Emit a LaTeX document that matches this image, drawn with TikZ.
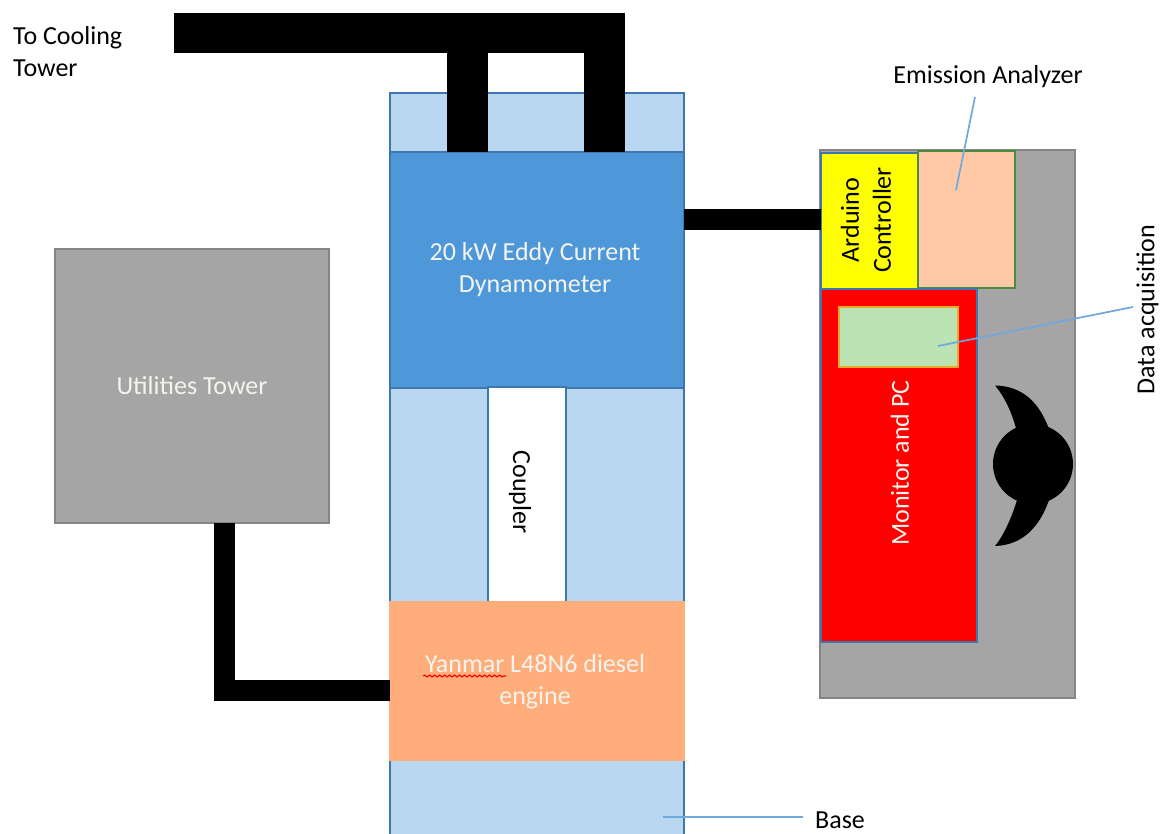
\documentclass[tikz,border=0pt]{standalone}
\usepackage{fontspec}
\setmainfont{Carlito}
\usetikzlibrary{decorations.pathmorphing}
\definecolor{basefill}{HTML}{B9D7F0}
\definecolor{blueedge}{HTML}{3E77AE}
\definecolor{dynofill}{HTML}{4E97D8}
\definecolor{greyfill}{HTML}{A5A5A5}
\definecolor{greyedge}{HTML}{858585}
\definecolor{enginefill}{HTML}{FFAD7A}
\definecolor{peachfill}{HTML}{FFC9A8}
\definecolor{greenedge}{HTML}{4C8A3C}
\definecolor{dafill}{HTML}{BBE3B3}
\definecolor{daedge}{HTML}{EFA92A}
\definecolor{leader}{HTML}{6FA8DC}
\definecolor{pureyellow}{HTML}{FFFF00}
\definecolor{purered}{HTML}{FF0000}
\definecolor{softwhite}{HTML}{F4F4EE}
\tikzset{
  x=1pt,y=-1pt,
  box/.style={draw=#1,line width=1.2pt,inner sep=0pt,outer sep=0pt,anchor=north west},
  lab/.style={font=\fontsize{26}{32}\selectfont,inner sep=0pt,align=center},
  pipe/.style={draw=black,line cap=butt,line join=miter},
  leaderline/.style={draw=leader,line width=1.7pt},
}
\newcommand{\rectnode}[7]{% name, style, fill, x0,y0,x1,y1
  \pgfmathsetlengthmacro{\rw}{#6-#4}\pgfmathsetlengthmacro{\rh}{#7-#5}
  \node[box=#2,fill=#3,minimum width=\rw,minimum height=\rh] (#1) at (#4,#5) {};}
\begin{document}
\begin{tikzpicture}
\useasboundingbox (0,0) rectangle (1170,834);
\clip (0,0) rectangle (1170,834);
% base
\rectnode{base}{blueedge}{basefill}{390}{93}{684}{845}
% pipes to cooling tower
\coordinate (coolend) at (174,33);
\coordinate (teeA) at (467.5,33);
\coordinate (teeB) at (604.5,33);
% dynamometer
\rectnode{dyno}{blueedge}{dynofill}{390}{152}{684}{388}
\node[lab,text=softwhite] (dynotext) at (535,270) {20 kW Eddy Current\\Dynamometer};
\draw[pipe,line width=40.5pt] (coolend) -- (teeB) -- (teeB |- dyno.north);
\draw[pipe,line width=40.5pt] (teeA) -- (teeA |- dyno.north);
% coupler
\rectnode{coupler}{blueedge}{white}{488}{387}{566}{602}
\node[lab,rotate=-90] (couplertext) at (520,492) {Coupler};
% engine
\rectnode{engine}{enginefill}{enginefill}{390}{601.5}{684}{760}
\node[lab,text=softwhite] (enginetext) at (535,682) {Yanmar L48N6 diesel\\engine};
\coordinate (sqA) at (423,676);
\coordinate (sqB) at (506,676);
\draw[red,line width=1.1pt,decorate,decoration={snake,amplitude=1pt,segment length=5pt}] (sqA) -- (sqB);
% utilities
\rectnode{util}{greyedge}{greyfill}{55}{249}{329}{523}
\node[lab,text=softwhite] (utiltext) at (192,386) {Utilities Tower};
\coordinate (elbow) at (224,690);
\draw[pipe,line width=21pt] (elbow |- util.south) -- (elbow) -- (elbow -| engine.west);
% right cabinet
\rectnode{cabinet}{greyedge}{greyfill}{820}{150}{1075}{698}
\rectnode{arduino}{blueedge}{pureyellow}{821}{153}{918}{289}
\rectnode{analyzer}{greenedge}{peachfill}{918}{151}{1015}{288}
\rectnode{monitor}{blueedge}{purered}{821}{289}{977}{642}
\rectnode{daq}{daedge}{dafill}{839}{307}{958}{367}
\node[lab,rotate=90] (ardtext) at (866,220) {Arduino\\Controller};
\node[lab,rotate=90,text=softwhite] (montext) at (900,463) {Monitor and PC};
\coordinate (ardlink) at (684,220);
\draw[pipe,line width=21pt] (dyno.east |- ardlink) -- (arduino.west |- ardlink);
% crescent blob
\fill[black] (1033,464) circle[radius=40];
\fill[black] (995,385.5) .. controls (1022,386) and (1040,402) .. (1050,432)
  -- (1017,432) .. controls (1012,412) and (1004,396) .. (995,385.5) -- cycle;
\fill[black] (995,546) .. controls (1022,545) and (1040,528) .. (1050,497)
  -- (1018,497) .. controls (1012,517) and (1004,535) .. (995,546) -- cycle;
% labels
\node[lab,align=left,anchor=west] (cooltext) at (13,51.5) {To Cooling\\Tower};
\node[lab] (emtext) at (988,77) {Emission Analyzer};
\node[lab,rotate=90] (datext) at (1147.5,309.5) {Data acquisition};
\node[lab] (basetext) at (840,820) {Base};
% leaders
\coordinate (emA) at (975,97);
\coordinate (emB) at (956,190);
\coordinate (daA) at (1133,307);
\coordinate (daB) at (938,346);
\coordinate (baA) at (803,817);
\coordinate (baB) at (663,817);
\draw[leaderline] (emA) -- (emB);
\draw[leaderline] (daA) -- (daB);
\draw[leaderline] (baA) -- (baB);
\end{tikzpicture}
\end{document}
